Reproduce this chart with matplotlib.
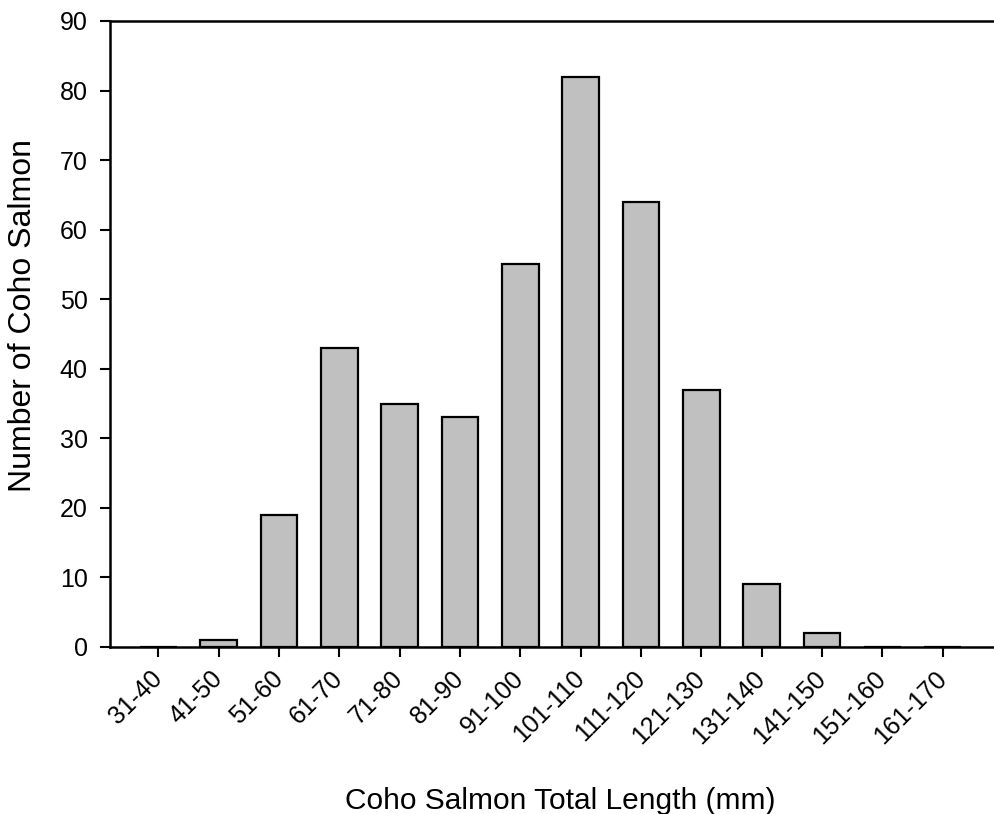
import matplotlib
matplotlib.use("Agg")
import matplotlib.pyplot as plt

categories = ["31-40", "41-50", "51-60", "61-70", "71-80", "81-90", "91-100",
              "101-110", "111-120", "121-130", "131-140", "141-150", "151-160", "161-170"]
counts = [0, 1, 19, 43, 35, 33, 55, 82, 64, 37, 9, 2, 0, 0]
yticks = [0, 10, 20, 30, 40, 50, 60, 70, 80, 90]

plt.rcParams['font.family'] = ['Liberation Sans', 'DejaVu Sans']

fig = plt.figure(figsize=(9.94, 8.14), dpi=100)
ax = fig.add_axes([110/994, (814-647)/814, 1 - 110/994, (647-21)/814])

x = list(range(len(categories)))
ax.bar(x, counts, width=0.61, color="#c0c0c0", edgecolor="black", linewidth=1.6, zorder=2)

ax.set_xlim(-0.8, 13.85)
ax.set_ylim(0, 90)
ax.set_yticks(yticks)
ax.set_xticks(x)
ax.set_xticklabels(categories, rotation=45, ha="right", va="center",
                   rotation_mode="anchor", fontsize=18)
ax.tick_params(axis="y", labelsize=18, length=7, width=1.5, direction="out", pad=9)
ax.tick_params(axis="x", length=7, width=1.5, direction="out", pad=13)

for s in ["left", "bottom", "top"]:
    ax.spines[s].set_linewidth(1.8)
    ax.spines[s].set_zorder(3)
ax.spines["right"].set_visible(False)

ax.set_ylabel("Number of Coho Salmon", fontsize=23)
ax.set_xlabel("Coho Salmon Total Length (mm)", fontsize=21.5)
ax.yaxis.set_label_coords(-0.0814, 0.529)
ax.xaxis.set_label_coords(0.509, -0.2236)

fig.savefig("out.png", dpi=100)
